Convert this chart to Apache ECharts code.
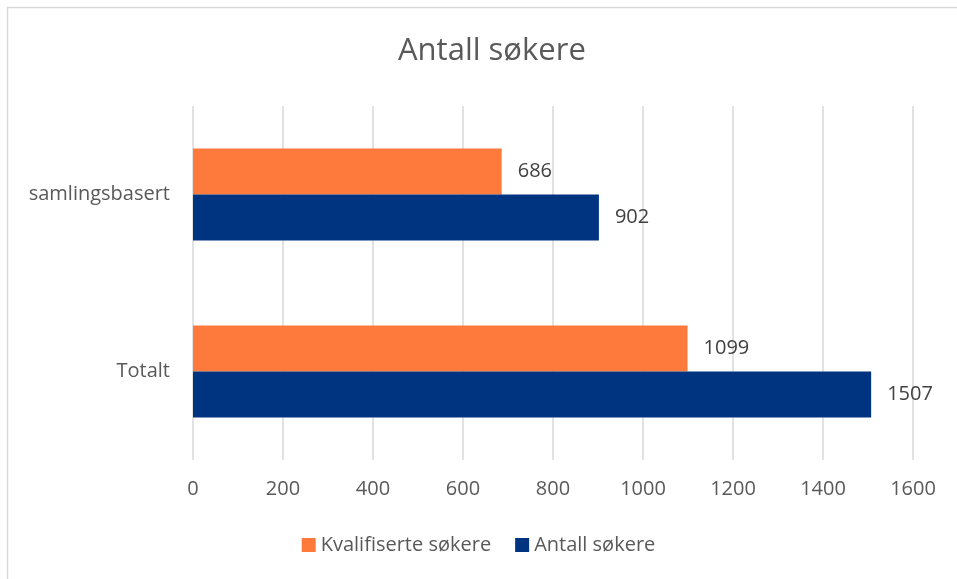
<!DOCTYPE html>
<html>
<head>
<meta charset="UTF-8">
<title>Antall søkere</title>
<style>
body{margin:0;background:#fff;}
#picContainer{width:957px;height:579px;}
</style>
</head>
<body>
<div id='picContainer'></div>
<script src="https://cdn.jsdelivr.net/npm/echarts@6/dist/echarts.min.js"></script>
<script>
var categories = ['Totalt', 'samlingsbasert'];
var kvalifiserte = [1099, 686];
var antall = [1507, 902];
var seriesNames = ['Kvalifiserte søkere', 'Antall søkere'];

drawPic();
function drawPic(){
    var font = 'Open Sans';
    var myChart = echarts.init(document.getElementById('picContainer'));
    var option = {
        backgroundColor: '#fff',
        textStyle: {fontFamily: font},
        title: {
            text: 'Antall søkere',
            left: 393,
            top: 31,
            textStyle: {fontSize: 31, fontWeight: 'normal', color: '#595959', fontFamily: font}
        },
        graphic: [{
            type: 'rect',
            shape: {x: 7.5, y: 7.5, width: 960, height: 580},
            style: {fill: 'none', stroke: '#d9d9d9', lineWidth: 1.5},
            silent: true
        }],
        legend: {
            data: seriesNames,
            bottom: 19,
            left: 'center',
            itemWidth: 14,
            itemHeight: 14,
            itemGap: 24,
            icon: 'rect',
            textStyle: {fontSize: 20, color: '#595959', fontFamily: font}
        },
        grid: {left: 193, right: 44, top: 106, bottom: 119},
        xAxis: {
            type: 'value',
            min: 0,
            max: 1600,
            interval: 200,
            axisLine: {show: false},
            axisTick: {show: false},
            axisLabel: {fontSize: 20, color: '#595959', margin: 19, fontFamily: font,
                formatter: function (v) { return String(v); }},
            splitLine: {lineStyle: {color: '#d9d9d9', width: 1.5}}
        },
        yAxis: {
            type: 'category',
            data: categories,
            axisLine: {show: false},
            axisTick: {show: false},
            axisLabel: {fontSize: 20, color: '#595959', margin: 23, fontFamily: font}
        },
        series: [
            {
                name: seriesNames[0],
                type: 'bar',
                data: kvalifiserte,
                barWidth: 46,
                barGap: '0%',
                itemStyle: {color: '#fe7a3c'},
                label: {show: true, position: 'right', distance: 16, fontSize: 20, color: '#404040', fontFamily: font}
            },
            {
                name: seriesNames[1],
                type: 'bar',
                data: antall,
                barWidth: 46,
                barGap: '0%',
                itemStyle: {color: '#003380'},
                label: {show: true, position: 'right', distance: 16, fontSize: 20, color: '#404040', fontFamily: font}
            }
        ]
    };
    myChart.setOption(option);
}
</script>
</body>
</html>
